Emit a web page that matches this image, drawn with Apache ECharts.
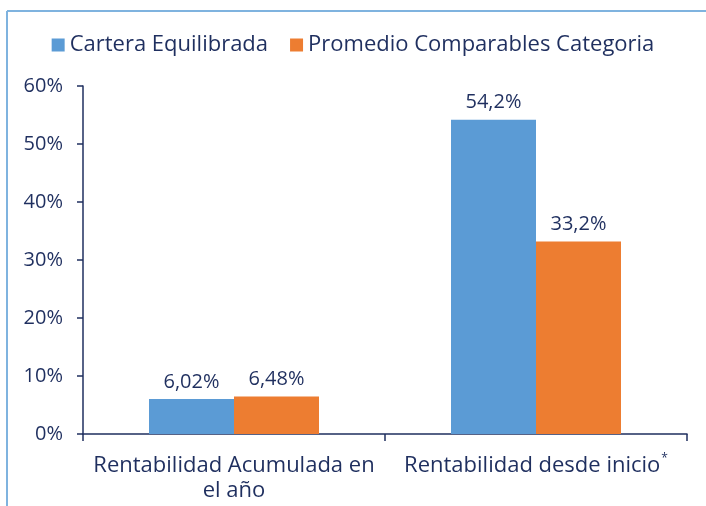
<!DOCTYPE html>
<html><head><meta charset="utf-8">
<script src="https://cdn.jsdelivr.net/npm/echarts@6/dist/echarts.min.js"></script>
<style>html,body{margin:0;padding:0;background:#fff}#c{width:706px;height:506px}</style>
</head><body><div id="c"></div>
<script>
const categories = ['Rentabilidad Acumulada en\nel año', 'Rentabilidad desde inicio*'];
const seriesNames = ['Cartera Equilibrada', 'Promedio Comparables Categoria'];
const carteraValues = [6.02, 54.2];
const promedioValues = [6.48, 33.2];
const yTicks = [0, 10, 20, 30, 40, 50, 60];

const navy = '#1F2F5F';
const fontFam = '"Open Sans", Lato, sans-serif';
const fmt = v => String(v).replace('.', ',') + '%';

const chart = echarts.init(document.getElementById('c'));
chart.setOption({
  animation: false,
  backgroundColor: '#fff',
  graphic: [
    {type: 'line', shape: {x1: 7, y1: 11, x2: 7, y2: 506}, style: {stroke: '#7fb3df', lineWidth: 2}},
    {type: 'line', shape: {x1: 7, y1: 11, x2: 706, y2: 11}, style: {stroke: '#7fb3df', lineWidth: 2}}
  ],
  legend: {
    data: seriesNames,
    top: 29, left: 'center',
    itemWidth: 13, itemHeight: 13, itemGap: 22,
    icon: 'rect',
    textStyle: {color: navy, fontSize: 22, fontFamily: fontFam}
  },
  grid: {left: 83, right: 19, top: 86, bottom: 72},
  xAxis: {
    type: 'category', data: categories,
    axisLine: {lineStyle: {color: navy, width: 1.5}},
    axisTick: {show: true, length: 7, lineStyle: {color: navy, width: 1.5}},
    axisLabel: {
      interval: 0,
      color: navy, fontSize: 22, fontFamily: fontFam, lineHeight: 25, margin: 19,
      formatter: v => v.endsWith('*') ? v.slice(0, -1) + '{sup|*}' : v,
      rich: {sup: {fontSize: 12, verticalAlign: 'top', color: navy, fontFamily: fontFam, padding: [0,0,4,1]}}
    }
  },
  yAxis: {
    type: 'value', min: 0, max: 60, interval: 10,
    axisLine: {show: true, lineStyle: {color: navy, width: 1.5}},
    axisTick: {show: true, length: 6, lineStyle: {color: navy, width: 1.5}},
    splitLine: {show: false},
    axisLabel: {color: navy, fontSize: 20, fontFamily: fontFam, margin: 20,
      formatter: v => yTicks.includes(v) ? v + '%' : ''}
  },
  series: [
    {name: seriesNames[0], type: 'bar', data: carteraValues, barWidth: 85, barGap: '0%',
     itemStyle: {color: '#5B9BD5'},
     label: {show: true, position: 'top', distance: 7, color: navy, fontSize: 20, fontFamily: fontFam, formatter: p => fmt(p.value)}},
    {name: seriesNames[1], type: 'bar', data: promedioValues, barWidth: 85, barGap: '0%',
     itemStyle: {color: '#ED7D31'},
     label: {show: true, position: 'top', distance: 7, color: navy, fontSize: 20, fontFamily: fontFam, formatter: p => fmt(p.value)}}
  ]
});
</script></body></html>
